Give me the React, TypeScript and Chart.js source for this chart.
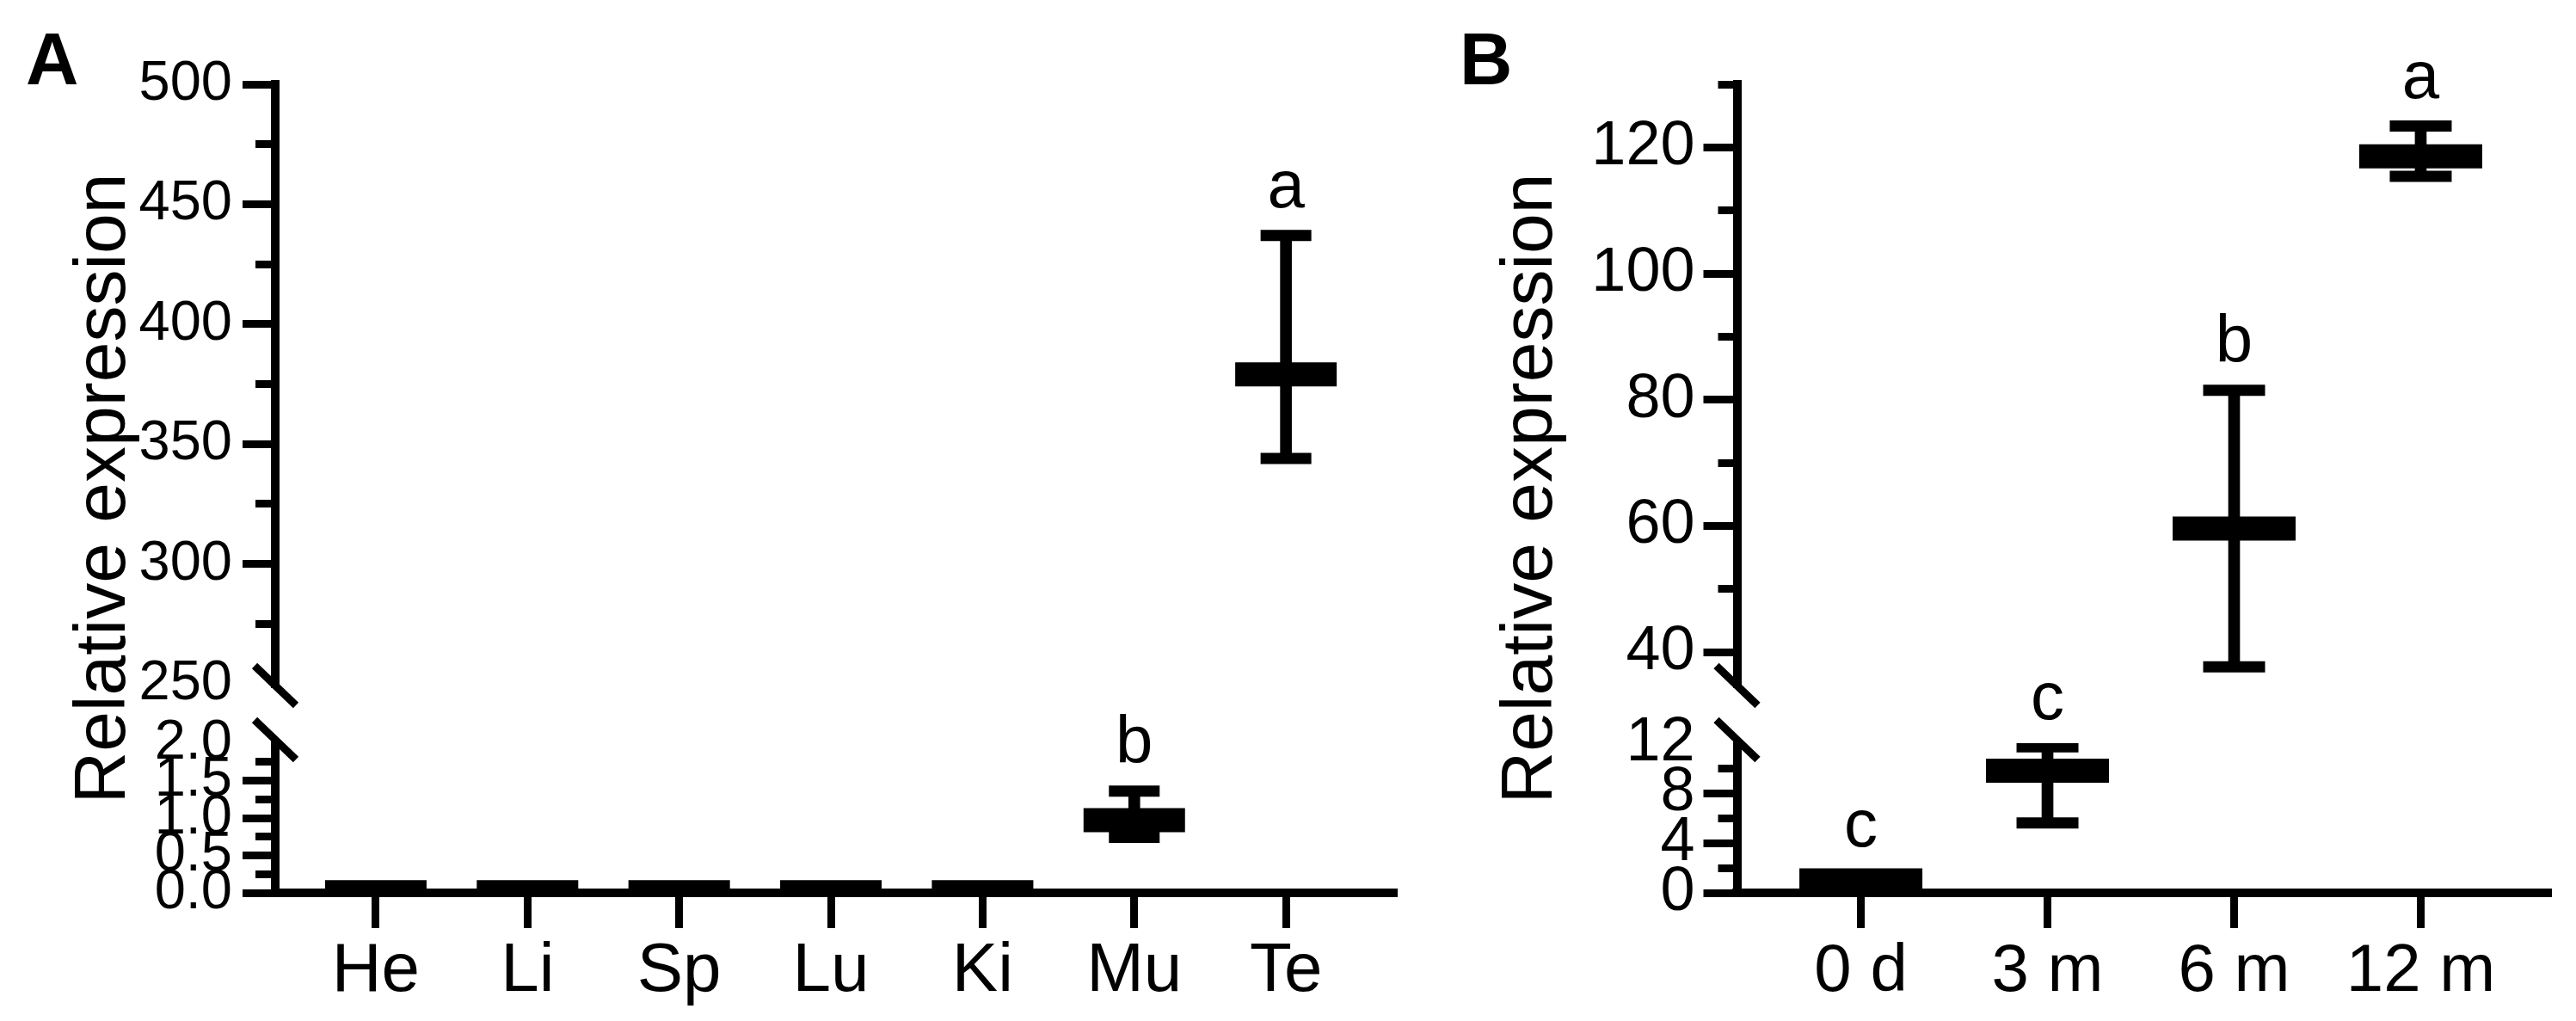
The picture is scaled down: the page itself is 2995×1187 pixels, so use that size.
import { useEffect, useRef } from 'react';
import Chart from 'chart.js/auto';

const FONT = '"Liberation Sans", Arial, sans-serif';

// Panel A: tissues
const tissues = ['He', 'Li', 'Sp', 'Lu', 'Ki', 'Mu', 'Te'];
const tissueMean = [0.01, 0.01, 0.01, 0.01, 0.01, 0.97, 379];
const tissueLow = [0.005, 0.005, 0.005, 0.005, 0.005, 0.74, 344];
const tissueHigh = [0.015, 0.015, 0.015, 0.015, 0.015, 1.36, 437];
const tissueMarks = ['', '', '', '', '', 'b', 'a'];
const tissueLowerRange = [0, 2];
const tissueLowerTicks = [0, 0.25, 0.5, 0.75, 1, 1.25, 1.5, 1.75, 2];
const tissueLowerLabels = [0, 0.5, 1, 1.5, 2];
const tissueUpperRange = [250, 500];
const tissueUpperTicks = [250, 275, 300, 325, 350, 375, 400, 425, 450, 475, 500];
const tissueUpperLabels = [250, 300, 350, 400, 450, 500];

// Panel B: ages
const ages = ['0 d', '3 m', '6 m', '12 m'];
const ageMean = [1.0, 9.8, 59.6, 118.6];
const ageLow = [0.7, 5.6, 37.7, 115.4];
const ageHigh = [1.3, 11.7, 81.5, 123.4];
const ageMarks = ['c', 'c', 'b', 'a'];
const ageLowerRange = [0, 12];
const ageLowerTicks = [0, 2, 4, 6, 8, 10, 12];
const ageLowerLabels = [0, 4, 8, 12];
const ageUpperRange = [35, 130];
const ageUpperTicks = [40, 50, 60, 70, 80, 90, 100, 110, 120, 130];
const ageUpperLabels = [40, 60, 80, 100, 120];

type Segment = {
  range: number[];
  ticks: number[];
  labels: number[];
  digits: number;
};

type PanelSpec = {
  letter: string;
  cats: string[];
  mean: number[];
  low: number[];
  high: number[];
  marks: string[];
  lower: Segment;
  upper: Segment;
  left: number;
  width: number;
  padLeft: number;
  axisWidth: number;
  padRight: number;
  xRange: number[];
  yFont: number;
  yPad: number;
  tickLen: number;
  minorGap: number;
  xFont: number;
  xPad: number;
  meanRadius: number;
  capRadius: number;
  titleX: number;
  letterX: number;
};

const panelA: PanelSpec = {
  letter: 'A',
  cats: tissues,
  mean: tissueMean,
  low: tissueLow,
  high: tissueHigh,
  marks: tissueMarks,
  lower: { range: tissueLowerRange, ticks: tissueLowerTicks, labels: tissueLowerLabels, digits: 1 },
  upper: { range: tissueUpperRange, ticks: tissueUpperTicks, labels: tissueUpperLabels, digits: 0 },
  left: 0,
  width: 1640,
  padLeft: 150,
  axisWidth: 170,
  padRight: 20,
  xRange: [-0.663, 6.708],
  yFont: 65,
  yPad: 12,
  tickLen: 38,
  minorGap: 15,
  xFont: 80,
  xPad: 11,
  meanRadius: 59,
  capRadius: 29.5,
  titleX: 145,
  letterX: 30,
};

const panelB: PanelSpec = {
  letter: 'B',
  cats: ages,
  mean: ageMean,
  low: ageLow,
  high: ageHigh,
  marks: ageMarks,
  lower: { range: ageLowerRange, ticks: ageLowerTicks, labels: ageLowerLabels, digits: 0 },
  upper: { range: ageUpperRange, ticks: ageUpperTicks, labels: ageUpperLabels, digits: 0 },
  left: 1660,
  width: 1335,
  padLeft: 120,
  axisWidth: 239.5,
  padRight: 33,
  xRange: [-0.664, 3.68],
  yFont: 72,
  yPad: 10,
  tickLen: 39,
  minorGap: 17,
  xFont: 78,
  xPad: 12,
  meanRadius: 71.5,
  capRadius: 36,
  titleX: 144,
  letterX: 37,
};

const HEIGHT = 1187;
const WHISKER = 13;
const CAP_W = 13;
const MEAN_W = 28;

function buildChart(canvas: HTMLCanvasElement, p: PanelSpec) {
  const segOf = (i: number) => (p.mean[i] > p.lower.range[1] ? 'yUp' : 'yLow');
  const idx = p.cats.map((_, i) => i);

  const pointSet = (seg: string, data: { x: number; y: number }[], r: number, w: number) => ({
    type: 'scatter' as const,
    xAxisID: 'x',
    yAxisID: seg,
    data,
    showLine: false,
    pointStyle: 'line',
    pointRadius: r,
    pointHoverRadius: r,
    pointBorderWidth: w,
    pointHoverBorderWidth: w,
    pointBorderColor: '#000',
    pointBackgroundColor: '#000',
    clip: 0,
  });

  const datasets: any[] = [];
  for (const seg of ['yUp', 'yLow']) {
    const pick = idx.filter((i) => segOf(i) === seg);
    datasets.push({
      type: 'bar',
      xAxisID: 'x',
      yAxisID: seg,
      stack: 'whisker',
      data: pick.map((i) => ({ x: i, y: [p.low[i], p.high[i]] })),
      backgroundColor: '#000',
      borderWidth: 0,
      borderSkipped: false,
      barThickness: WHISKER,
      clip: 0,
    });
    datasets.push(pointSet(seg, pick.map((i) => ({ x: i, y: p.high[i] })), p.capRadius, CAP_W));
    datasets.push(pointSet(seg, pick.map((i) => ({ x: i, y: p.low[i] })), p.capRadius, CAP_W));
    datasets.push(pointSet(seg, pick.map((i) => ({ x: i, y: p.mean[i] })), p.meanRadius, MEAN_W));
  }

  const yScale = (seg: Segment, hidden: number, weight: number, stackWeight: number) => ({
    type: 'linear',
    position: 'left',
    stack: 'y',
    stackWeight,
    weight,
    stacked: false,
    beginAtZero: false,
    bounds: 'data',
    min: seg.range[0],
    max: seg.range[1],
    afterBuildTicks: (s: any) => {
      s.ticks = seg.ticks.map((v) => ({ value: v }));
    },
    afterFit: (s: any) => {
      s.width = p.axisWidth;
    },
    ticks: {
      autoSkip: false,
      padding: p.yPad,
      color: '#000',
      font: { family: FONT, size: p.yFont },
      callback: (v: any) => (seg.labels.includes(Number(v)) ? Number(v).toFixed(seg.digits) : ''),
    },
    grid: {
      drawOnChartArea: false,
      drawTicks: true,
      tickLength: p.tickLen,
      lineWidth: 9,
      tickWidth: 9,
      color: '#000',
      tickColor: (c: any) => (c.tick && c.tick.value === hidden ? 'rgba(0,0,0,0)' : '#000'),
      tickBorderDash: (c: any) =>
        c.tick && !seg.labels.includes(c.tick.value) ? [0, p.minorGap, 200] : [],
    },
    border: { display: true, width: 10, color: '#000' },
  });

  const decor = {
    id: 'decor',
    afterDraw(chart: any) {
      const { ctx } = chart;
      const xs = chart.scales.x;
      const up = chart.scales.yUp;
      const lo = chart.scales.yLow;
      ctx.save();
      ctx.fillStyle = '#000';
      ctx.strokeStyle = '#000';

      // axis break marks
      const ax = up.right;
      ctx.lineWidth = 9;
      ctx.lineCap = 'butt';
      for (const yc of [up.bottom + 2, lo.top - 4]) {
        ctx.beginPath();
        ctx.moveTo(ax - 24, yc - 23);
        ctx.lineTo(ax + 24, yc + 23);
        ctx.stroke();
      }

      // significance letters
      ctx.font = `78px ${FONT}`;
      ctx.textAlign = 'center';
      ctx.textBaseline = 'alphabetic';
      p.marks.forEach((m, i) => {
        if (!m) return;
        const sc = segOf(i) === 'yUp' ? up : lo;
        const top = Math.min(
          sc.getPixelForValue(p.high[i]) - CAP_W / 2,
          sc.getPixelForValue(p.mean[i]) - MEAN_W / 2
        );
        ctx.fillText(m, xs.getPixelForValue(i), top - 26);
      });

      // y title across both segments
      ctx.save();
      ctx.translate(p.titleX, (up.top + lo.bottom) / 2);
      ctx.rotate(-Math.PI / 2);
      ctx.font = `84px ${FONT}`;
      ctx.fillText('Relative expression', 0, 0);
      ctx.restore();

      // panel letter
      ctx.font = `bold 85px ${FONT}`;
      ctx.textAlign = 'left';
      ctx.fillText(p.letter, p.letterX, 98);
      ctx.restore();
    },
  };

  return new Chart(canvas, {
    type: 'scatter',
    data: { datasets },
    options: {
      responsive: false,
      animation: false,
      events: [],
      layout: {
        autoPadding: false,
        padding: { left: p.padLeft, right: p.padRight, top: 98, bottom: 0 },
      },
      plugins: { legend: { display: false }, tooltip: { enabled: false } },
      scales: {
        x: {
          type: 'linear',
          position: 'bottom',
          offset: false,
          bounds: 'data',
          min: p.xRange[0],
          max: p.xRange[1],
          afterBuildTicks: (s: any) => {
            s.ticks = p.cats.map((_, i) => ({ value: i }));
          },
          afterFit: (s: any) => {
            s.height = 149;
          },
          ticks: {
            autoSkip: false,
            maxRotation: 0,
            minRotation: 0,
            padding: p.xPad,
            color: '#000',
            font: { family: FONT, size: p.xFont, lineHeight: 1 },
            callback: (v: any) => p.cats[Number(v)] ?? '',
          },
          grid: {
            offset: false,
            drawOnChartArea: false,
            tickLength: 41,
            lineWidth: 9,
            tickWidth: 9,
            color: '#000',
            tickColor: '#000',
          },
          border: { display: true, width: 10, color: '#000' },
        },
        yUp: yScale(p.upper, p.upper.range[0], 3, 697),
        yGap: {
          type: 'linear',
          display: false,
          position: 'left',
          stack: 'y',
          stackWeight: 69,
          weight: 2,
          min: 0,
          max: 1,
        },
        yLow: yScale(p.lower, p.lower.range[1], 1, 174),
      } as any,
    },
    plugins: [decor],
  } as any);
}

function Panel({ spec }: { spec: PanelSpec }) {
  const ref = useRef<HTMLCanvasElement | null>(null);

  useEffect(() => {
    if (!ref.current) return;
    const chart = buildChart(ref.current, spec);
    return () => {
      chart.destroy();
    };
  }, [spec]);

  return (
    <canvas
      ref={ref}
      width={spec.width}
      height={HEIGHT}
      style={{ position: 'absolute', left: spec.left, top: 0, width: spec.width, height: HEIGHT }}
    />
  );
}

export default function App() {
  return (
    <div
      style={{
        position: 'absolute',
        left: 0,
        top: 0,
        width: 2995,
        height: HEIGHT,
        background: '#fff',
        overflow: 'hidden',
      }}
    >
      <Panel spec={panelA} />
      <Panel spec={panelB} />
    </div>
  );
}
